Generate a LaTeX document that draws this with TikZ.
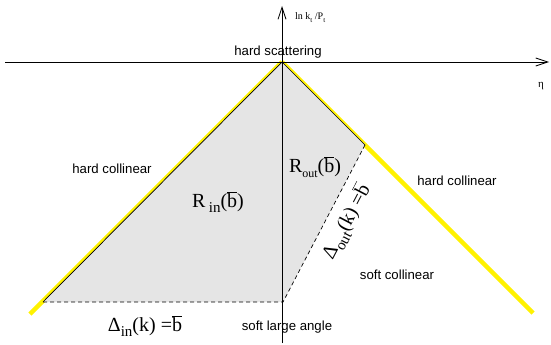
\documentclass[tikz,border=0pt]{standalone}
\usepackage{fontspec}
\setmainfont{Liberation Sans}
\newfontfamily\tms{Liberation Serif}
\usetikzlibrary{arrows.meta}
\newcommand\lowsub[2]{\raisebox{-0.28em}{\fontsize{#1}{#1}\selectfont #2}}
\newcommand\barb{$\overline{\hbox{b}}$}
\begin{document}
\begin{tikzpicture}[x=1pt,y=-1pt,
  lbl/.style={font=\fontsize{13.2}{15}\selectfont, inner sep=0pt, anchor=base},
  mth/.style={font=\tms\fontsize{20}{22}\selectfont, inner sep=0pt, anchor=base},
  axis/.style={line width=0.8pt, -{Straight Barb[length=12pt,width=8pt,line width=0.8pt]}},
  hardline/.style={yellow, line width=4.5pt},
  edge/.style={black, line width=0.7pt},
  cut/.style={black, line width=0.7pt, dash pattern=on 4pt off 3pt}]
\useasboundingbox (0,0) rectangle (551,345);
% key points
\coordinate (apex) at (282,62);
\coordinate (lend) at (30,314);
\coordinate (rend) at (533,313);
\coordinate (lc) at (43,302);
\coordinate (bc) at (283,302);
\coordinate (rc) at (365,145);
\coordinate (ybot) at (282,343);
\coordinate (ytop) at (282,6);
\coordinate (xleft) at (5,62);
\coordinate (xright) at (549,62);
% hard collinear lines
\draw[hardline] (apex) -- (lend);
\draw[hardline] (apex) -- (rend);
% region
\fill[gray!20] (apex) -- (lc) -- (bc) -- (rc) -- cycle;
\draw[edge] (lc) -- (apex) -- (rc);
\draw[cut] (lc) -- (bc) -- (rc);
% axes
\draw[axis] (ybot) -- (ytop);
\draw[axis] (xleft) -- (xright);
% labels
\node[font=\tms\fontsize{10}{11}\selectfont, inner sep=0pt, anchor=base west] (ylab) at (295,20) {ln k\lowsub{7}{t} /P\lowsub{7}{t}};
\node[font=\tms\fontsize{11}{12}\selectfont, inner sep=0pt, anchor=base] (xlab) at (541,87) {η};
\node[lbl] (hs) at (278,56) {hard scattering};
\node[lbl] (hcl) at (112,173) {hard collinear};
\node[lbl] (hcr) at (457,185) {hard collinear};
\node[lbl] (sc) at (397,279) {soft collinear};
\node[lbl] (sla) at (287,330) {soft large angle};
\node[mth] (rin) at (218,207) {R\,\lowsub{15}{in}(\barb)};
\node[mth] (rout) at (315,172) {R\lowsub{12}{out}(\barb)};
\node[mth] (din) at (145,331) {Δ\lowsub{15}{in}(k) =\barb};
\node[mth, anchor=center, rotate=62.3] (dout) at (347,222) {Δ\lowsub{15}{out}(k) =\barb};
\end{tikzpicture}
\end{document}
